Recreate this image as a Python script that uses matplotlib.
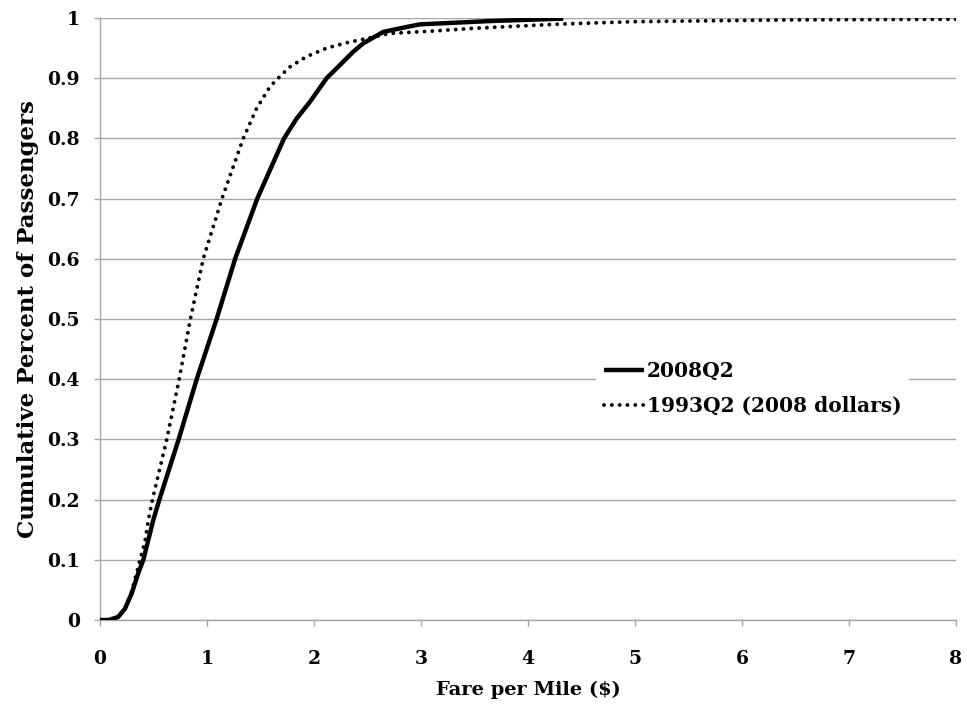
import numpy as np
import matplotlib
matplotlib.use("Agg")
import matplotlib.pyplot as plt

# 2008Q2 cumulative distribution
fare_2008 = [0, 0.08, 0.17, 0.234, 0.296, 0.358, 0.405, 0.498, 0.555, 0.735,
             0.904, 1.09, 1.263, 1.47, 1.72, 1.838, 1.963, 2.118, 2.243, 2.367,
             2.461, 2.648, 2.835, 2.99, 3.65, 4.33]
cum_2008 = [0, 0, 0.005, 0.019, 0.044, 0.078, 0.1, 0.166, 0.2, 0.3,
            0.4, 0.5, 0.6, 0.7, 0.8, 0.833, 0.861, 0.9, 0.922, 0.944,
            0.958, 0.977, 0.984, 0.9895, 0.995, 0.999]

# 1993Q2 in 2008 dollars
fare_1993 = [0, 0.08, 0.17, 0.234, 0.29, 0.343, 0.374, 0.42, 0.452, 0.49,
             0.624, 0.74, 0.845, 0.965, 1.14, 1.339, 1.464, 1.589, 1.682,
             1.776, 1.931, 2.118, 2.305, 2.492, 2.71, 3.08, 3.5, 4.3, 5.0, 6.5, 8.0]
cum_1993 = [0, 0, 0.005, 0.019, 0.044, 0.078, 0.1, 0.13, 0.166, 0.2,
            0.3, 0.4, 0.5, 0.6, 0.7, 0.8, 0.85, 0.886, 0.903,
            0.919, 0.936, 0.95, 0.959, 0.966, 0.9745, 0.978, 0.983, 0.99, 0.994, 0.997, 0.998]

xticks = [0, 1, 2, 3, 4, 5, 6, 7, 8]
yticks = [0, 0.1, 0.2, 0.3, 0.4, 0.5, 0.6, 0.7, 0.8, 0.9, 1]
ylabels = ['0', '0.1', '0.2', '0.3', '0.4', '0.5', '0.6', '0.7', '0.8', '0.9', '1']

plt.rcParams['font.family'] = ['DejaVu Serif']
plt.rcParams['font.weight'] = 'bold'
grey = '#a6a6a6'

fig = plt.figure(figsize=(9.67, 7.04), dpi=100)
ax = fig.add_axes([0.1034, 0.1193, 0.8852, 0.8551])

ax.plot(fare_2008, cum_2008, color='black', lw=3.2, label='2008Q2',
        solid_capstyle='butt', solid_joinstyle='round', zorder=3)
ax.plot(fare_1993, cum_1993, color='black', lw=2.8, linestyle=(0, (0.01, 2.0)),
        dash_capstyle='round', label='1993Q2 (2008 dollars)', zorder=3)

ax.set_xlim(0, 8)
ax.set_ylim(0, 1)
ax.set_xticks(xticks)
ax.set_yticks(yticks)
ax.set_yticklabels(ylabels)
ax.yaxis.grid(True, color=grey, lw=1)
ax.set_axisbelow(True)
for s in ['top', 'right']:
    ax.spines[s].set_visible(False)
for s in ['left', 'bottom']:
    ax.spines[s].set_color(grey)
    ax.spines[s].set_linewidth(1)
ax.tick_params(axis='both', colors=grey, length=4.5, width=1, labelsize=13.5,
               labelcolor='black')
ax.tick_params(axis='x', pad=17)
ax.tick_params(axis='y', pad=10)

ax.set_xlabel('Fare per Mile ($)', fontsize=14, fontweight='bold', labelpad=9)
ax.set_ylabel('Cumulative Percent of Passengers', fontsize=16.5, fontweight='bold',
              labelpad=6)

leg = ax.legend(loc='upper left', bbox_to_anchor=(0.568, 0.461), fontsize=14.5,
                frameon=True, fancybox=False, framealpha=1, facecolor='white',
                edgecolor='none', handlelength=1.95, handletextpad=0.15,
                labelspacing=0.75, borderpad=0.4)
leg.set_zorder(5)

fig.savefig('out.png', dpi=100)
